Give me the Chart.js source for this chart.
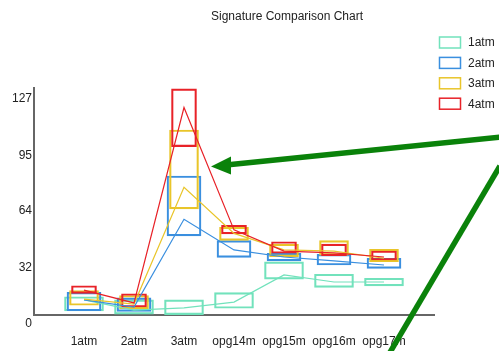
<!DOCTYPE html>
<html lang="en">
<head>
<meta charset="UTF-8">
<title>Signature Comparison Chart</title>
<script src="https://cdn.jsdelivr.net/npm/chart.js"></script>
<style>
  html, body { margin: 0; padding: 0; background: #fff; }
  canvas { display: block; }
</style>
</head>
<body>
<canvas id="sigChart" width="499" height="351"></canvas>
<script>
// categories and series
const categories = ['1atm', '2atm', '3atm', 'opg14m', 'opg15m', 'opg16m', 'opg17m'];
const seriesNames = ['1atm', '2atm', '3atm', '4atm'];
const yTicks = [0, 32, 64, 95, 127];

// box ranges (low / high) per series
const lo1atm = [2.3, 0.5, 0.2, 3.8, 20.2, 15.6, 16.4];
const hi1atm = [10.3, 8.5, 8.5, 12.6, 30, 23, 20.7];
const lo2atm = [2.4, 2, 44.6, 32.5, 30.5, 28.2, 26.3];
const hi2atm = [12.8, 9.7, 78.4, 41.9, 34.8, 34.2, 32];
const lo3atm = [5.5, 3.5, 59.8, 42.1, 32.9, 33.8, 30.1];
const hi3atm = [13.7, 11, 104.3, 49.5, 39.9, 41.9, 37];
const lo4atm = [12.2, 4.5, 94.9, 45.7, 34.8, 33.4, 31];
const hi4atm = [16.5, 12, 127.5, 50.6, 41.3, 40, 36.1];

// signature line per series
const mid1atm = [8.5, 2.8, 4, 7.3, 22.6, 18.6, 18.6];
const mid2atm = [8.5, 4.5, 54, 36.7, 32.7, 30.5, 28.2];
const mid3atm = [9, 6.2, 72, 46, 36.7, 36, 32];
const mid4atm = [14, 6.8, 117, 48, 36, 35, 32.7];

const seriesColors = ['#72e2bc', '#3a8fdf', '#e9c52a', '#e82228'];
const boxWidths = [39, 34, 29, 25];

const lows = [lo1atm, lo2atm, lo3atm, lo4atm];
const highs = [hi1atm, hi2atm, hi3atm, hi4atm];
const mids = [mid1atm, mid2atm, mid3atm, mid4atm];

// empty slot either side of the groups
const labels = [''].concat(categories, ['']);
const pad = arr => [null].concat(arr, [null]);

const datasets = [];
seriesNames.forEach((name, i) => {
    datasets.push({
        type: 'bar',
        label: name,
        data: pad(lows[i].map((v, j) => [v, highs[i][j]])),
        backgroundColor: 'rgba(0,0,0,0)',
        borderColor: seriesColors[i],
        borderWidth: 1.5,
        borderSkipped: false,
        barThickness: boxWidths[i],
        grouped: false,
        order: 8 - i
    });
});
seriesNames.forEach((name, i) => {
    datasets.push({
        type: 'line',
        label: name + ' line',
        data: pad(mids[i]),
        borderColor: seriesColors[i],
        borderWidth: 1.2,
        pointRadius: 0,
        tension: 0,
        fill: false,
        order: 4 - i
    });
});

const FONT = '"Liberation Sans", Arial, sans-serif';
Chart.defaults.font.family = FONT;
Chart.defaults.font.size = 12;
Chart.defaults.color = '#222';

// title, legend and the green arrows drawn on top
const extras = {
    id: 'extras',
    afterDraw(chart) {
        const ctx = chart.ctx;
        ctx.save();
        ctx.font = '12px ' + FONT;
        ctx.fillStyle = '#222';
        ctx.textAlign = 'center';
        ctx.textBaseline = 'middle';
        ctx.fillText('Signature Comparison Chart', 287, 17);

        ctx.textAlign = 'left';
        seriesNames.forEach((name, i) => {
            const y = 37 + i * 20.4;
            ctx.strokeStyle = seriesColors[i];
            ctx.lineWidth = 1.5;
            ctx.strokeRect(439.5, y, 21, 11);
            ctx.fillStyle = '#222';
            ctx.fillText(name, 468, y + 6);
        });

        ctx.strokeStyle = '#0a820a';
        ctx.fillStyle = '#0a820a';
        ctx.lineWidth = 5.5;
        ctx.lineCap = 'butt';
        ctx.beginPath();
        ctx.moveTo(502, 137);
        ctx.lineTo(226, 165);
        ctx.stroke();
        ctx.beginPath();
        ctx.moveTo(211, 166.5);
        ctx.lineTo(231, 156.5);
        ctx.lineTo(231, 174.5);
        ctx.closePath();
        ctx.fill();

        ctx.beginPath();
        ctx.moveTo(500, 166);
        ctx.lineTo(389, 354);
        ctx.stroke();
        ctx.restore();
    }
};

new Chart(document.getElementById('sigChart'), {
    type: 'bar',
    data: { labels: labels, datasets: datasets },
    plugins: [extras],
    options: {
        responsive: false,
        animation: false,
        events: [],
        layout: { padding: { top: 88, right: 65, bottom: 0, left: 0 } },
        plugins: {
            legend: { display: false },
            title: { display: false },
            tooltip: { enabled: false }
        },
        scales: {
            x: {
                type: 'category',
                offset: false,
                grid: { display: false, drawTicks: false },
                border: { display: true, color: '#666', width: 2 },
                ticks: { autoSkip: false, maxRotation: 0, padding: 19 },
                afterFit: s => { s.height = 36; }
            },
            y: {
                min: 0,
                max: 128,
                grid: { display: false, drawTicks: false },
                border: { display: true, color: '#666', width: 2 },
                ticks: { padding: 2, labelOffset: 9 },
                afterBuildTicks: axis => { axis.ticks = yTicks.map(v => ({ value: v })); },
                afterFit: s => { s.width = 34; }
            }
        }
    }
});
</script>
</body>
</html>
